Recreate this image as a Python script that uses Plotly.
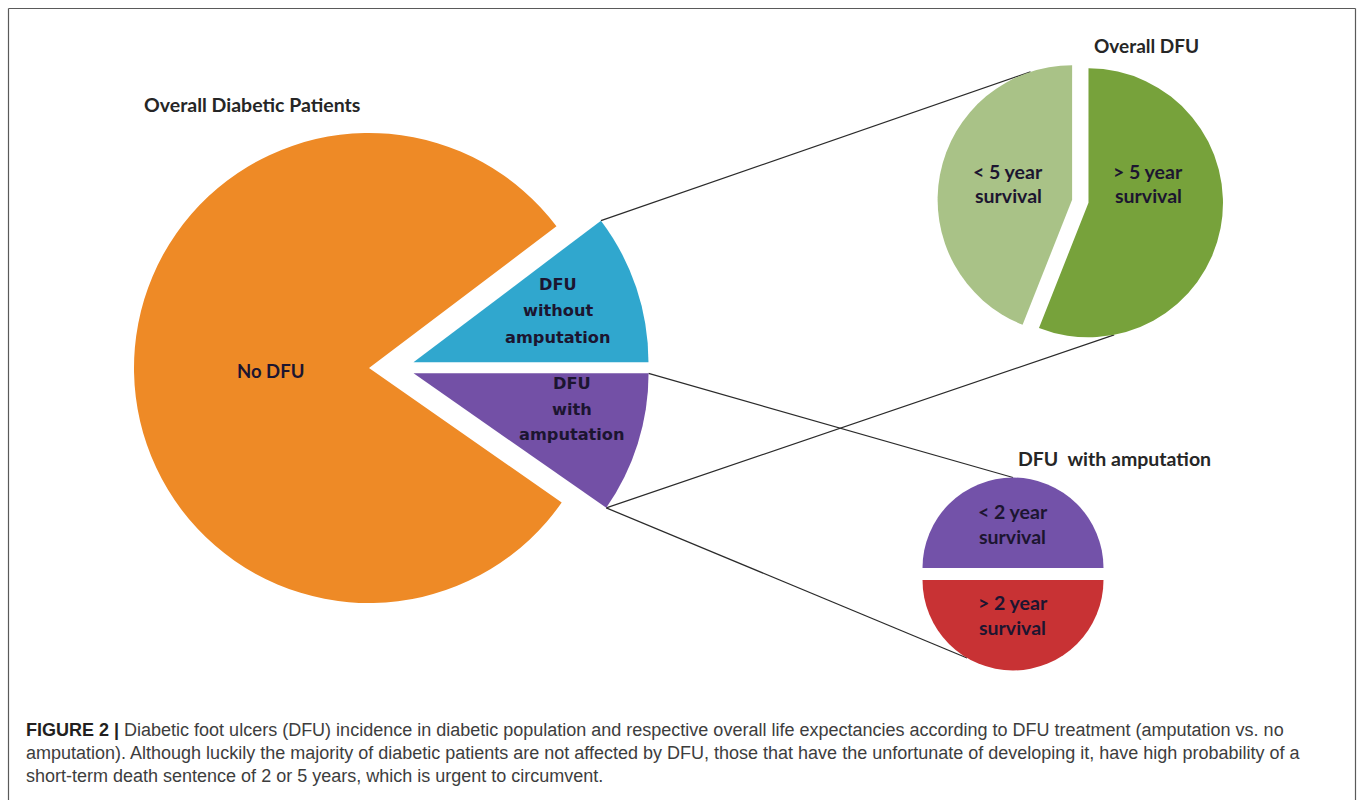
import math
import plotly.graph_objects as go

W, H = 1357, 800

# ---------------- data ----------------
main_labels = ["DFU without amputation", "DFU with amputation", "No DFU"]
main_values = [10.3, 9.7, 80.0]
main_lines = [["DFU", "without", "amputation"], ["DFU", "with", "amputation"], ["No DFU"]]

dfu_labels = ["> 5 year survival", "< 5 year survival"]
dfu_values = [56, 44]
dfu_lines = [["> 5 year", "survival"], ["< 5 year", "survival"]]

amp_labels = ["< 2 year survival", "> 2 year survival"]
amp_values = [50, 50]
amp_lines = [["< 2 year", "survival"], ["> 2 year", "survival"]]

titles = ["Overall Diabetic Patients", "Overall DFU", "DFU\u00a0 with amputation"]

caption_bold = "FIGURE 2 |"
caption_lines = [
    " Diabetic foot ulcers (DFU) incidence in diabetic population and respective overall life expectancies according to DFU treatment (amputation vs. no",
    "amputation). Although luckily the majority of diabetic patients are not affected by DFU, those that have the unfortunate of developing it, have high probability of a",
    "short-term death sentence of 2 or 5 years, which is urgent to circumvent.",
]

# ---------------- styles ----------------
C_ORANGE = "#EE8A26"
C_TEAL = "#30A7CE"
C_PURPLE = "#7350A6"
C_LGREEN = "#A9C287"
C_DGREEN = "#77A23B"
C_PURPLE2 = "#7352A9"
C_RED = "#C83234"
CLEAR = "rgba(0,0,0,0)"
LBL = "#1c1530"
TTL = "#262626"

# geometry (pixels)
MAIN_C = (369.0, 368.0); MAIN_R = 235.0
EXP_SHIFT = 27.6; EXP_PULL = 0.0757
DFU_C = (1080.3, 201.3); DFU_R = 134.5; DFU_PULL = 0.062
AMP_C = (1013.0, 574.0); AMP_R = 90.5; AMP_PULL = 0.066


def dom(cx, cy, r, pull):
    h = r * (1 + pull)
    return dict(x=[(cx - h) / W, (cx + h) / W], y=[1 - (cy + h) / H, 1 - (cy - h) / H])


def px(x, y):
    return x / W, 1 - y / H


def slice_geo(values, idx, rotation):
    tot = sum(values)
    start = rotation + 360.0 * sum(values[:idx]) / tot
    span = 360.0 * values[idx] / tot
    return start, span


def point(center, r, pull, start, span, at):
    mid = math.radians(start + span / 2)
    ox = center[0] + pull * r * math.sin(mid)
    oy = center[1] - pull * r * math.cos(mid)
    a = math.radians(at)
    return ox + r * math.sin(a), oy - r * math.cos(a)


fig = go.Figure()

main_rot = 90 - 360.0 * main_values[0] / sum(main_values)

# orange slice (not exploded)
fig.add_trace(go.Pie(
    labels=main_labels, values=main_values, sort=False, direction="clockwise",
    rotation=main_rot, marker=dict(colors=[CLEAR, CLEAR, C_ORANGE], line=dict(width=0)),
    textinfo="none", hoverinfo="skip", showlegend=False,
    domain=dom(MAIN_C[0], MAIN_C[1], MAIN_R, 0.0)))

# exploded DFU slices
exp_c = (MAIN_C[0] + EXP_SHIFT, MAIN_C[1])
fig.add_trace(go.Pie(
    labels=main_labels, values=main_values, sort=False, direction="clockwise",
    rotation=main_rot, pull=[EXP_PULL, EXP_PULL, 0],
    marker=dict(colors=[C_TEAL, C_PURPLE, CLEAR], line=dict(width=0)),
    textinfo="none", hoverinfo="label+percent", showlegend=False,
    domain=dom(exp_c[0], exp_c[1], MAIN_R, EXP_PULL)))

# Overall DFU pie
fig.add_trace(go.Pie(
    labels=dfu_labels, values=dfu_values, sort=False, direction="clockwise",
    rotation=0, pull=[DFU_PULL, DFU_PULL],
    marker=dict(colors=[C_DGREEN, C_LGREEN], line=dict(width=0)),
    textinfo="none", hoverinfo="label+percent", showlegend=False,
    domain=dom(DFU_C[0], DFU_C[1], DFU_R, DFU_PULL)))

# DFU with amputation pie
fig.add_trace(go.Pie(
    labels=amp_labels, values=amp_values, sort=False, direction="clockwise",
    rotation=-90, pull=[AMP_PULL, AMP_PULL],
    marker=dict(colors=[C_PURPLE2, C_RED], line=dict(width=0)),
    textinfo="none", hoverinfo="label+percent", showlegend=False,
    domain=dom(AMP_C[0], AMP_C[1], AMP_R, AMP_PULL)))

# ---------------- connector lines ----------------
t_start, t_span = slice_geo(main_values, 0, main_rot)
p_start, p_span = slice_geo(main_values, 1, main_rot)
teal_top = point(exp_c, MAIN_R, EXP_PULL, t_start, t_span, t_start)
purp_right = point(exp_c, MAIN_R, EXP_PULL, p_start, p_span, p_start)
purp_bot = point(exp_c, MAIN_R, EXP_PULL, p_start, p_span, p_start + p_span)

d0s, d0w = slice_geo(dfu_values, 0, 0)
d1s, d1w = slice_geo(dfu_values, 1, 0)
lg_pt = point(DFU_C, DFU_R, DFU_PULL, d1s, d1w, 342)
dg_pt = point(DFU_C, DFU_R, DFU_PULL, d0s, d0w, 169)

a0s, a0w = slice_geo(amp_values, 0, -90)
a1s, a1w = slice_geo(amp_values, 1, -90)
ap_top = point(AMP_C, AMP_R, AMP_PULL, a0s, a0w, 0)
ar_pt = point(AMP_C, AMP_R, AMP_PULL, a1s, a1w, 210.5)

shapes = []
for (p0, p1) in [(teal_top, lg_pt), (purp_bot, dg_pt), (purp_right, ap_top), (purp_bot, ar_pt)]:
    x0, y0 = px(*p0)
    x1, y1 = px(*p1)
    shapes.append(dict(type="line", xref="paper", yref="paper", x0=x0, y0=y0, x1=x1, y1=y1,
                       line=dict(color="#2b2b2b", width=1.2), layer="below"))

# frame
for (a, b) in [((8.5, 8.5), (1355.5, 8.5)), ((8.5, 8.5), (8.5, 805)), ((1355.5, 8.5), (1355.5, 805))]:
    x0, y0 = px(*a)
    x1, y1 = px(*b)
    shapes.append(dict(type="line", xref="paper", yref="paper", x0=x0, y0=y0, x1=x1, y1=y1,
                       line=dict(color="#5a5a5a", width=1.2)))

# ---------------- text ----------------
ann = []


def add_text(txt, x, y, size, family, color, weight="bold", xanchor="center"):
    xx, yy = px(x, y)
    ann.append(dict(text=txt, x=xx, y=yy, xref="paper", yref="paper", showarrow=False,
                    xanchor=xanchor, yanchor="middle",
                    font=dict(size=size, family=family, color=color, weight=weight)))


GEO = "DejaVu Sans"
CAL = "Lato"

# titles
add_text(titles[0], 252, 105, 19.5, CAL, TTL)
add_text(titles[1], 1146, 45, 19, CAL, TTL)
add_text(titles[2], 1114, 458, 19.5, CAL, TTL)

# main pie labels
for i, (cx, y0, step) in enumerate([(558, 285, 26), (572, 383, 26)]):
    for j, line in enumerate(main_lines[i]):
        add_text(line, cx, y0 + j * step, 16.2, GEO, LBL)
add_text(main_lines[2][0], 270, 371, 18.5, CAL, LBL)

# DFU pie labels
for (cx, y0), lines in zip([(1148, 172), (1008, 172)], dfu_lines):
    for j, line in enumerate(lines):
        add_text(line, cx, y0 + j * 23, 19.5, CAL, LBL)

# amputation pie labels
for (cx, y0), lines in zip([(1013, 511), (1013, 602)], amp_lines):
    for j, line in enumerate(lines):
        add_text(line, cx, y0 + j * 25, 19.5, CAL, LBL)

# caption
cap_y = [730, 753, 776]
CAP_F = "Liberation Sans"
add_text("<span style='color:#231f20'><b>" + caption_bold + "</b></span>" + caption_lines[0],
         24, cap_y[0], 18, CAP_F, "#3d3d3d", weight="normal", xanchor="left")
add_text(caption_lines[1], 24, cap_y[1], 18, CAP_F, "#3d3d3d", weight="normal", xanchor="left")
add_text(caption_lines[2], 24, cap_y[2], 18, CAP_F, "#3d3d3d", weight="normal", xanchor="left")

fig.update_layout(
    width=W, height=H, autosize=False,
    margin=dict(l=0, r=0, t=0, b=0, pad=0),
    paper_bgcolor="white", plot_bgcolor="white",
    shapes=shapes, annotations=ann, showlegend=False,
)

fig.write_html("out.html", config={"displayModeBar": False},
               post_script="document.body.style.margin='0';document.body.style.overflow='hidden';")
